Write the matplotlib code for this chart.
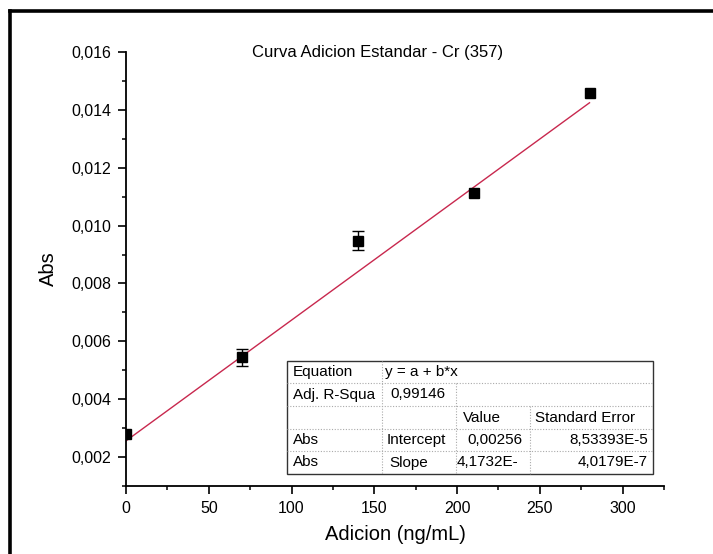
import numpy as np
import matplotlib
matplotlib.use("Agg")
import matplotlib.pyplot as plt
from matplotlib.ticker import MultipleLocator, FuncFormatter
from matplotlib.lines import Line2D

plt.rcParams['font.family'] = ['Liberation Sans', 'DejaVu Sans']

# Standard addition data (nan: no visible error bar)
adicion = [0, 70, 140, 210, 280]
absorb = [0.00280, 0.00545, 0.00947, 0.01111, 0.01459]
absorb_err = [np.nan, 0.00030, 0.00033, np.nan, np.nan]

# Linear fit results
intercept = 0.00256
slope = 4.1732e-5
adj_r2 = "0,99146"
intercept_se = "8,53393E-5"
slope_se = "4,0179E-7"

W, H = 713, 554
fig = plt.figure(figsize=(W / 100, H / 100), dpi=100)
fig.patch.set_facecolor('white')

ax = fig.add_axes([126 / W, 1 - 486 / H, (664 - 126) / W, (486 - 52) / H])
ax.set_xlim(0, 325)
ax.set_ylim(0.001, 0.016)

xfit = np.array([min(adicion), max(adicion)], dtype=float)
ax.plot(xfit, intercept + slope * xfit, color='#c8284e', lw=1.0, zorder=2)
ax.errorbar(adicion, absorb, yerr=absorb_err, fmt='none', ecolor='black',
            elinewidth=1.0, capsize=4, capthick=1.0, zorder=3)
ax.plot(adicion, absorb, 's', color='black', markersize=6.5, zorder=4,
        clip_on=True)

for s in ('top', 'right'):
    ax.spines[s].set_visible(False)
for s in ('left', 'bottom'):
    ax.spines[s].set_linewidth(1.3)
    ax.spines[s].set_zorder(5)

comma = FuncFormatter(lambda v, p: f"{v:.3f}".replace('.', ','))
ax.yaxis.set_major_locator(MultipleLocator(0.002))
ax.yaxis.set_minor_locator(MultipleLocator(0.001))
ax.yaxis.set_major_formatter(comma)
ax.xaxis.set_major_locator(MultipleLocator(50))
ax.xaxis.set_minor_locator(MultipleLocator(25))
ax.tick_params(which='major', direction='out', length=5.5, width=1.2,
               labelsize=11.5, pad=5)
ax.tick_params(which='minor', direction='out', length=3, width=1.1)

ax.set_xlabel("Adicion (ng/mL)", fontsize=14.5, labelpad=7)
ax.set_ylabel("Abs", fontsize=14.5, labelpad=10)
ax.text(0.468, 1.0, "Curva Adicion Estandar - Cr (357)", transform=ax.transAxes,
        ha='center', va='center', fontsize=12)

# Overlay in pixel units for frame and fit table
ov = fig.add_axes([0, 0, 1, 1], facecolor='none')
ov.set_xlim(0, W)
ov.set_ylim(H, 0)
ov.axis('off')

ov.add_line(Line2D([10, W], [11, 11], color='black', lw=2.6))
ov.add_line(Line2D([10, 10], [11, H], color='black', lw=2.6))

tl, tr, tt, tb = 287, 653, 361, 474
rows = [361, 383, 406, 429, 451, 474]
ov.add_patch(plt.Rectangle((tl, tt), tr - tl, tb - tt, facecolor='white',
                           edgecolor='#333333', lw=1.0, zorder=5))
grid = dict(color='#aaaaaa', lw=0.8, ls=(0, (1, 1.5)), zorder=6)
for r in rows[1:-1]:
    ov.add_line(Line2D([tl, tr], [r, r], **grid))
ov.add_line(Line2D([382, 382], [tt, tb], **grid))
ov.add_line(Line2D([456, 456], [rows[1], tb], **grid))
ov.add_line(Line2D([530, 530], [rows[2], tb], **grid))

fs = 11
def cell(x, row, s, ha='left'):
    yc = (rows[row] + rows[row + 1]) / 2
    ov.text(x, yc, s, ha=ha, va='center', fontsize=fs, zorder=7)

cell(293, 0, "Equation")
cell(385, 0, "y = a + b*x")
cell(293, 1, "Adj. R-Squa")
cell(390, 1, adj_r2)
cell(463, 2, "Value")
cell(535, 2, "Standard Error")
cell(293, 3, "Abs")
cell(387, 3, "Intercept")
cell(467, 3, f"{intercept:.5f}".replace('.', ','))
cell(648, 3, intercept_se, ha='right')
cell(293, 4, "Abs")
cell(389, 4, "Slope")
cell(457, 4, "4,1732E-")
cell(648, 4, slope_se, ha='right')

fig.savefig("out.png", dpi=100, facecolor='white')
